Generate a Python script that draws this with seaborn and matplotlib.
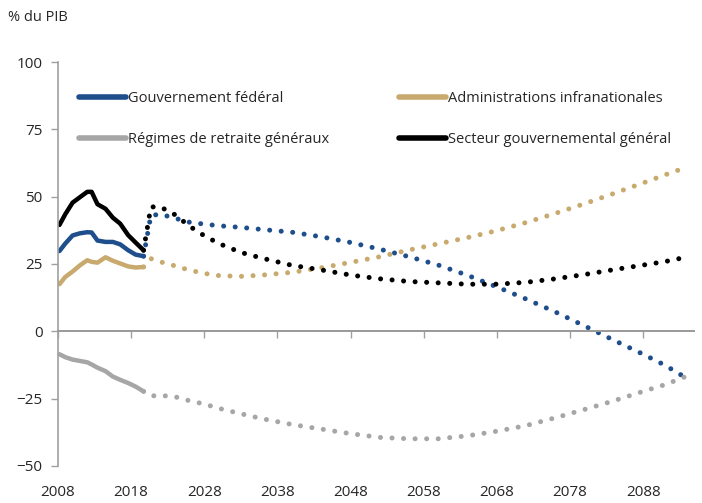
import pandas as pd
import matplotlib.pyplot as plt
import seaborn as sns
from matplotlib.lines import Line2D

# historical (solid) part
hist_years = [2008.2, 2009, 2010, 2011, 2012, 2012.6, 2013.4, 2014.5, 2015.5, 2016.5, 2017.6, 2018.6, 2019.7]
hist_federal = [29.8, 32.6, 35.6, 36.4, 36.8, 36.7, 33.7, 33.2, 33.2, 32.3, 30.1, 28.5, 27.9]
hist_infra = [17.5, 20.2, 22.2, 24.5, 26.4, 25.8, 25.5, 27.5, 26.2, 25.2, 24.1, 23.7, 23.9]
hist_pension = [-8.5, -9.6, -10.5, -11.0, -11.5, -12.3, -13.5, -14.8, -16.8, -18.0, -19.2, -20.5, -22.3]
hist_general = [39.5, 43.5, 47.8, 49.8, 51.8, 51.8, 47.2, 45.5, 42.2, 40.0, 35.7, 33.0, 30.1]

# projections (dotted)
proj_years = [2019.7, 2020.7, 2022, 2024, 2026, 2028, 2030, 2033, 2036, 2040, 2044, 2048,
              2052, 2056, 2060, 2064, 2068, 2072, 2076, 2080, 2084, 2088, 2091, 2094]
proj_federal = [27.9, 43.0, 43.5, 42.0, 40.5, 39.8, 39.2, 38.6, 37.8, 36.8, 35.1, 33.0,
                30.5, 27.7, 24.6, 20.8, 16.5, 12.0, 7.2, 2.0, -3.3, -8.5, -12.6, -17.5]
proj_infra = [23.9, 27.0, 25.8, 24.3, 22.7, 21.5, 20.7, 20.4, 20.9, 21.9, 23.6, 25.6,
              27.7, 30.2, 32.5, 34.8, 37.4, 40.4, 43.8, 47.4, 51.2, 55.1, 58.1, 61.0]
proj_pension = [-22.3, -24.0, -23.8, -24.3, -25.8, -27.0, -28.6, -30.6, -32.5, -34.6, -36.3, -38.0,
                -39.4, -39.9, -39.9, -38.8, -37.1, -35.0, -32.1, -29.0, -25.8, -22.3, -19.8, -16.6]
proj_general = [30.1, 46.2, 46.2, 43.3, 39.0, 35.5, 32.6, 29.3, 27.1, 24.5, 22.8, 20.9,
                19.5, 18.5, 18.0, 17.5, 17.5, 18.2, 19.5, 21.1, 22.9, 24.6, 25.9, 27.6]

labels = ['Gouvernement fédéral', 'Administrations infranationales',
          'Régimes de retraite généraux', 'Secteur gouvernemental général']
colors = ['#1F4E8C', '#C8AA6E', '#A6A6A6', '#000000']
x_ticks = [2008, 2018, 2028, 2038, 2048, 2058, 2068, 2078, 2088]
y_ticks = [-50, -25, 0, 25, 50, 75, 100]

sns.set_style('white')
plt.rcParams['font.family'] = ['Open Sans', 'DejaVu Sans']

fig = plt.figure(figsize=(7.02, 5.03), dpi=100)
ax = fig.add_axes([0.0826, 0.0736, 0.9064, 0.8031])

hist = [hist_federal, hist_infra, hist_pension, hist_general]
proj = [proj_federal, proj_infra, proj_pension, proj_general]
for h, p, c in zip(hist, proj, colors):
    sns.lineplot(x=hist_years, y=h, color=c, lw=3.2, ax=ax, solid_capstyle='round', solid_joinstyle='round')
    sns.lineplot(x=proj_years, y=p, color=c, lw=3.6, ax=ax, linestyle=(0, (0.01, 2.3)),
                 dash_capstyle='round')

ax.set_xlim(2008, 2095)
ax.set_ylim(-50, 100)
ax.set_yticks(y_ticks)
ax.set_xticks(x_ticks)
ax.set_xticklabels([])
ax.set_xlabel('')
ax.set_ylabel('')

for s in ['top', 'right']:
    ax.spines[s].set_visible(False)
ax.spines['left'].set_color('#A0A0A0')
ax.spines['bottom'].set_color('#999999')
ax.spines['left'].set_linewidth(1.2)
ax.spines['bottom'].set_linewidth(1.4)
ax.spines['bottom'].set_position(('data', 0))
ax.tick_params(axis='y', direction='out', length=5, width=1, color='#A0A0A0', labelsize=11, pad=6, left=True)
ax.tick_params(axis='x', direction='out', length=5, width=1, color='#A0A0A0', bottom=True)

sec = ax.secondary_xaxis('bottom')
sec.set_xticks(x_ticks)
sec.spines['bottom'].set_visible(False)
sec.tick_params(axis='x', length=0, labelsize=11, pad=14)

# legend fills columns first: federal, pension | infra, general
order = [0, 2, 1, 3]
handles = [Line2D([], [], color=colors[i], lw=4) for i in order]
ax.legend(handles, [labels[i] for i in order], ncol=2, frameon=False, loc='upper left',
          bbox_to_anchor=(0.013, 0.96), fontsize=10.5, handlelength=3.2, handletextpad=0.15,
          labelspacing=1.75, columnspacing=4.8)

fig.text(0.012, 0.965, '% du PIB', fontsize=10.5, va='center', ha='left')

fig.savefig('out.png', dpi=100)
